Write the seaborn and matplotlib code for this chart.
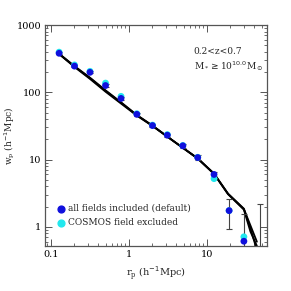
import numpy as np
import pandas as pd
import seaborn as sns
import matplotlib.pyplot as plt

# measured w_p(r_p) points
rp = [0.127, 0.2, 0.316, 0.5, 0.79, 1.26, 2.0, 3.1, 4.9, 7.6, 12.3, 19.2, 29.7, 48.0]
wp_all = [380, 245, 198, 126, 81, 47, 32, 23, 16, 10.7, 6.0, 1.74, 0.61, 0.3]
err_lo_all = [12, 8, 7, 5, 4, 2.5, 1.5, 1.2, 1.0, 0.8, 0.6, 0.81, 0.5, 0.29]
err_hi_all = [12, 8, 7, 5, 4, 2.5, 1.5, 1.2, 1.0, 0.8, 0.6, 0.86, 0.94, 1.9]
wp_cosmos = [395, 255, 205, 137, 87, 48, 32.5, 23.5, 16.2, 10.8, 5.2, 1.74, 0.71, 0.3]

# model curves (band of fits)
rp_model = [0.127, 0.2, 0.316, 0.5, 0.79, 1.26, 2.0, 3.67, 7.6, 12.3, 18.6, 29.7, 36.0, 43.6]
wp_model_a = [375, 245, 165, 107, 71, 46, 32, 19, 10.4, 6.2, 3.1, 1.86, 0.95, 0.45]
wp_model_b = [370, 238, 158, 102, 68, 45, 31.5, 19, 10.3, 6.1, 3.05, 1.80, 0.85, 0.52]
wp_model_c = [372, 242, 162, 105, 70, 45.5, 31.8, 19, 10.4, 6.15, 3.1, 1.83, 1.05, 0.60]

sns.set_style("ticks")
plt.rcParams['font.family'] = ['DejaVu Serif']

fig = plt.figure(figsize=(2.91, 2.91), dpi=100)
ax = fig.add_axes([0.155, 0.155, 0.763, 0.759])

for wm in [wp_model_a, wp_model_b, wp_model_c]:
    sns.lineplot(x=rp_model, y=wm, ax=ax, color='black', lw=1.3, sort=False)

ax.errorbar(rp, wp_all, yerr=[err_lo_all, err_hi_all], fmt='none',
            ecolor='#444444', elinewidth=0.8, capsize=2, capthick=0.8, zorder=2)

sns.scatterplot(x=rp, y=wp_cosmos, ax=ax, color='#22e8ee', s=24,
                edgecolor='none', zorder=3)
sns.scatterplot(x=rp, y=wp_all, ax=ax, color='#1010dd', s=24,
                edgecolor='none', zorder=4)

ax.set_xscale('log')
ax.set_yscale('log')
ax.set_xlim(0.084, 59)
ax.set_ylim(0.52, 1000)

ax.set_xticks([0.1, 1, 10])
ax.set_xticklabels(['0.1', '1', '10'])
ax.set_yticks([1, 10, 100, 1000])
ax.set_yticklabels(['1', '10', '100', '1000'])
ax.tick_params(which='both', direction='in', top=True, right=True,
               labelsize=7, colors='#555555', labelcolor='black')
ax.tick_params(which='major', length=5, width=0.7, pad=3)
ax.tick_params(which='minor', length=2.5, width=0.6)
for s in ax.spines.values():
    s.set_color('#555555')
    s.set_linewidth(0.9)

ax.set_xlabel(r'r$_\mathregular{p}$ (h$^{-1}$Mpc)', fontsize=7)
ax.set_ylabel(r'w$_\mathregular{p}$ (h$^{-1}$Mpc)', fontsize=6.5)
ax.yaxis.set_label_coords(-0.125, 0.5)

ax.text(0.67, 0.87, '0.2<z<0.7', transform=ax.transAxes, fontsize=6.5)
ax.text(0.67, 0.80, r'M$_*$$\geq$10$^{10.0}$M$_\odot$', transform=ax.transAxes,
        fontsize=6.5)

ax.scatter([], [], color='#1010dd', s=24, label='all fields included (default)')
ax.scatter([], [], color='#22e8ee', s=24, label='COSMOS field excluded')
ax.legend(loc='lower left', bbox_to_anchor=(0.02, 0.055), frameon=False,
          fontsize=6.5, handletextpad=0.1, borderaxespad=0.3, labelspacing=0.6,
          handlelength=1.2)

fig.savefig('out.png', dpi=100)
